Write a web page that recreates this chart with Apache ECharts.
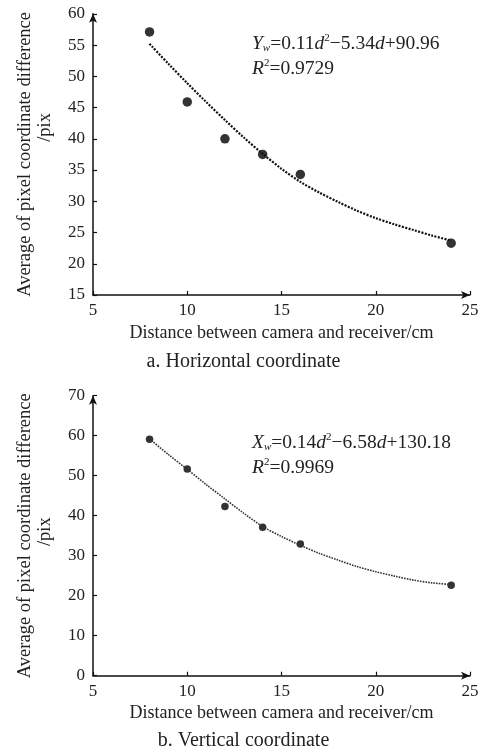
<!DOCTYPE html>
<html><head><meta charset="utf-8">
<script src="https://cdn.jsdelivr.net/npm/echarts@6/dist/echarts.min.js"></script>
<style>html,body{margin:0;padding:0;background:#fff}#c{width:487px;height:753px}</style>
</head><body><div id="c"></div>
<script>
// ---- data ----
const distances = [8, 10, 12, 14, 16, 24];
const horizontalValues = [57.1, 45.9, 40.0, 37.5, 34.3, 23.3];
const verticalValues = [59.1, 51.7, 42.3, 37.1, 32.9, 22.6];
const fitDistances = [8, 9, 10, 11, 12, 13, 14, 15, 16, 17, 18, 19, 20, 21, 22, 23, 24];
const horizontalFit = [55.2, 52.0, 48.9, 45.9, 43.0, 40.2, 37.6, 35.2, 33.1, 31.4, 29.9, 28.5, 27.3, 26.3, 25.4, 24.5, 23.7];
const verticalFit = [59.2, 55.3, 51.6, 47.8, 44.2, 40.6, 37.3, 34.8, 32.6, 30.6, 28.9, 27.3, 26.0, 24.9, 23.9, 23.2, 22.8];
const xRange = [5, 25, 5];
const horizontalYRange = [15, 60, 5];
const verticalYRange = [0, 70, 10];
const xName = 'Distance between camera and receiver/cm';
const yNameMain = 'Average of pixel coordinate difference';
const yNameUnit = '/pix';
const captionA = 'a. Horizontal coordinate';
const captionB = 'b. Vertical coordinate';

const FONT = 'Liberation Serif';
const pair = (xs, ys) => xs.map((x, i) => [x, ys[i]]);

function makeX(gi) {
  return {
    type: 'value', gridIndex: gi, min: xRange[0], max: xRange[1], interval: xRange[2],
    name: xName, nameLocation: 'middle', nameGap: 29,
    nameTextStyle: { fontFamily: FONT, fontSize: 18, color: '#222' },
    axisLine: { lineStyle: { color: '#111', width: 1.5 }, symbol: ['none', 'arrow'], symbolSize: [6, 9] },
    axisTick: { inside: true, length: 4, lineStyle: { color: '#111', width: 1.2 } },
    axisLabel: { fontFamily: FONT, fontSize: 17, color: '#222', margin: 7 },
    splitLine: { show: false }
  };
}
function makeY(gi, r, pad) {
  return {
    type: 'value', gridIndex: gi, min: r[0], max: r[1], interval: r[2],
    name: '{m|' + yNameMain + '}\n{u|' + yNameUnit + '}', nameLocation: 'middle', nameRotate: 90, nameGap: 38,
    nameTextStyle: {
      fontFamily: FONT, fontSize: 18.5, color: '#222', lineHeight: 20,
      rich: {
        m: { fontFamily: FONT, fontSize: 18.5, color: '#222', lineHeight: 20 },
        u: { fontFamily: FONT, fontSize: 18.5, color: '#222', lineHeight: 20, padding: [0, 0, 0, pad] }
      }
    },
    axisLine: { lineStyle: { color: '#111', width: 1.5 }, symbol: ['none', 'arrow'], symbolSize: [6, 9] },
    axisTick: { inside: true, length: 4, lineStyle: { color: '#111', width: 1.2 } },
    axisLabel: { fontFamily: FONT, fontSize: 17, color: '#222', margin: 8 },
    splitLine: { show: false }
  };
}

const rich = {
  n: { fontFamily: FONT, fontSize: 19.5, color: '#222', lineHeight: 25 },
  i: { fontFamily: FONT, fontSize: 19.5, color: '#222', fontStyle: 'italic', lineHeight: 25 },
  sub: { fontFamily: FONT, fontSize: 11, color: '#222', fontStyle: 'italic', verticalAlign: 'bottom', lineHeight: 25, padding: [0, 0, 2, 0] },
  sup: { fontFamily: FONT, fontSize: 11, color: '#222', verticalAlign: 'top', lineHeight: 25, padding: [2, 0, 0, 0] }
};
function eq(left, top, text) {
  return { type: 'text', left: left, top: top, style: { text: text, rich: rich, font: '19.5px ' + FONT, fill: '#222' } };
}

const chart = echarts.init(document.getElementById('c'), null, { renderer: 'canvas' });
chart.setOption({
  backgroundColor: '#fff',
  animation: false,
  grid: [
    { left: 93, top: 13.8, width: 377, height: 281.2 },
    { left: 93, top: 395.7, width: 377, height: 280 }
  ],
  xAxis: [makeX(0), makeX(1)],
  yAxis: [makeY(0, horizontalYRange, 54), makeY(1, verticalYRange, 8)],
  series: [
    { type: 'line', xAxisIndex: 0, yAxisIndex: 0, data: pair(fitDistances, horizontalFit), smooth: 0.3, symbol: 'none',
      lineStyle: { color: '#111', width: 2.2, type: [2, 1.4] } },
    { type: 'scatter', xAxisIndex: 0, yAxisIndex: 0, data: pair(distances, horizontalValues), symbolSize: 9.5,
      itemStyle: { color: '#000' } },
    { type: 'line', xAxisIndex: 1, yAxisIndex: 1, data: pair(fitDistances, verticalFit), smooth: 0.3, symbol: 'none',
      lineStyle: { color: '#333', width: 1.6, type: [1.6, 1.1] } },
    { type: 'scatter', xAxisIndex: 1, yAxisIndex: 1, data: pair(distances, verticalValues), symbolSize: 7.5,
      itemStyle: { color: '#000' } }
  ],
  graphic: [
    eq(252, 31, '{i|Y}{sub|w}{n|=0.11}{i|d}{sup|2}{n|−5.34}{i|d}{n|+90.96}\n{i|R}{sup|2}{n|=0.9729}'),
    eq(252, 430, '{i|X}{sub|w}{n|=0.14}{i|d}{sup|2}{n|−6.58}{i|d}{n|+130.18}\n{i|R}{sup|2}{n|=0.9969}'),
    { type: 'text', left: 'center', top: 352, style: { text: captionA, font: '20px ' + FONT, fill: '#222' } },
    { type: 'text', left: 'center', top: 731, style: { text: captionB, font: '20px ' + FONT, fill: '#222' } }
  ]
});
</script>
</body></html>
